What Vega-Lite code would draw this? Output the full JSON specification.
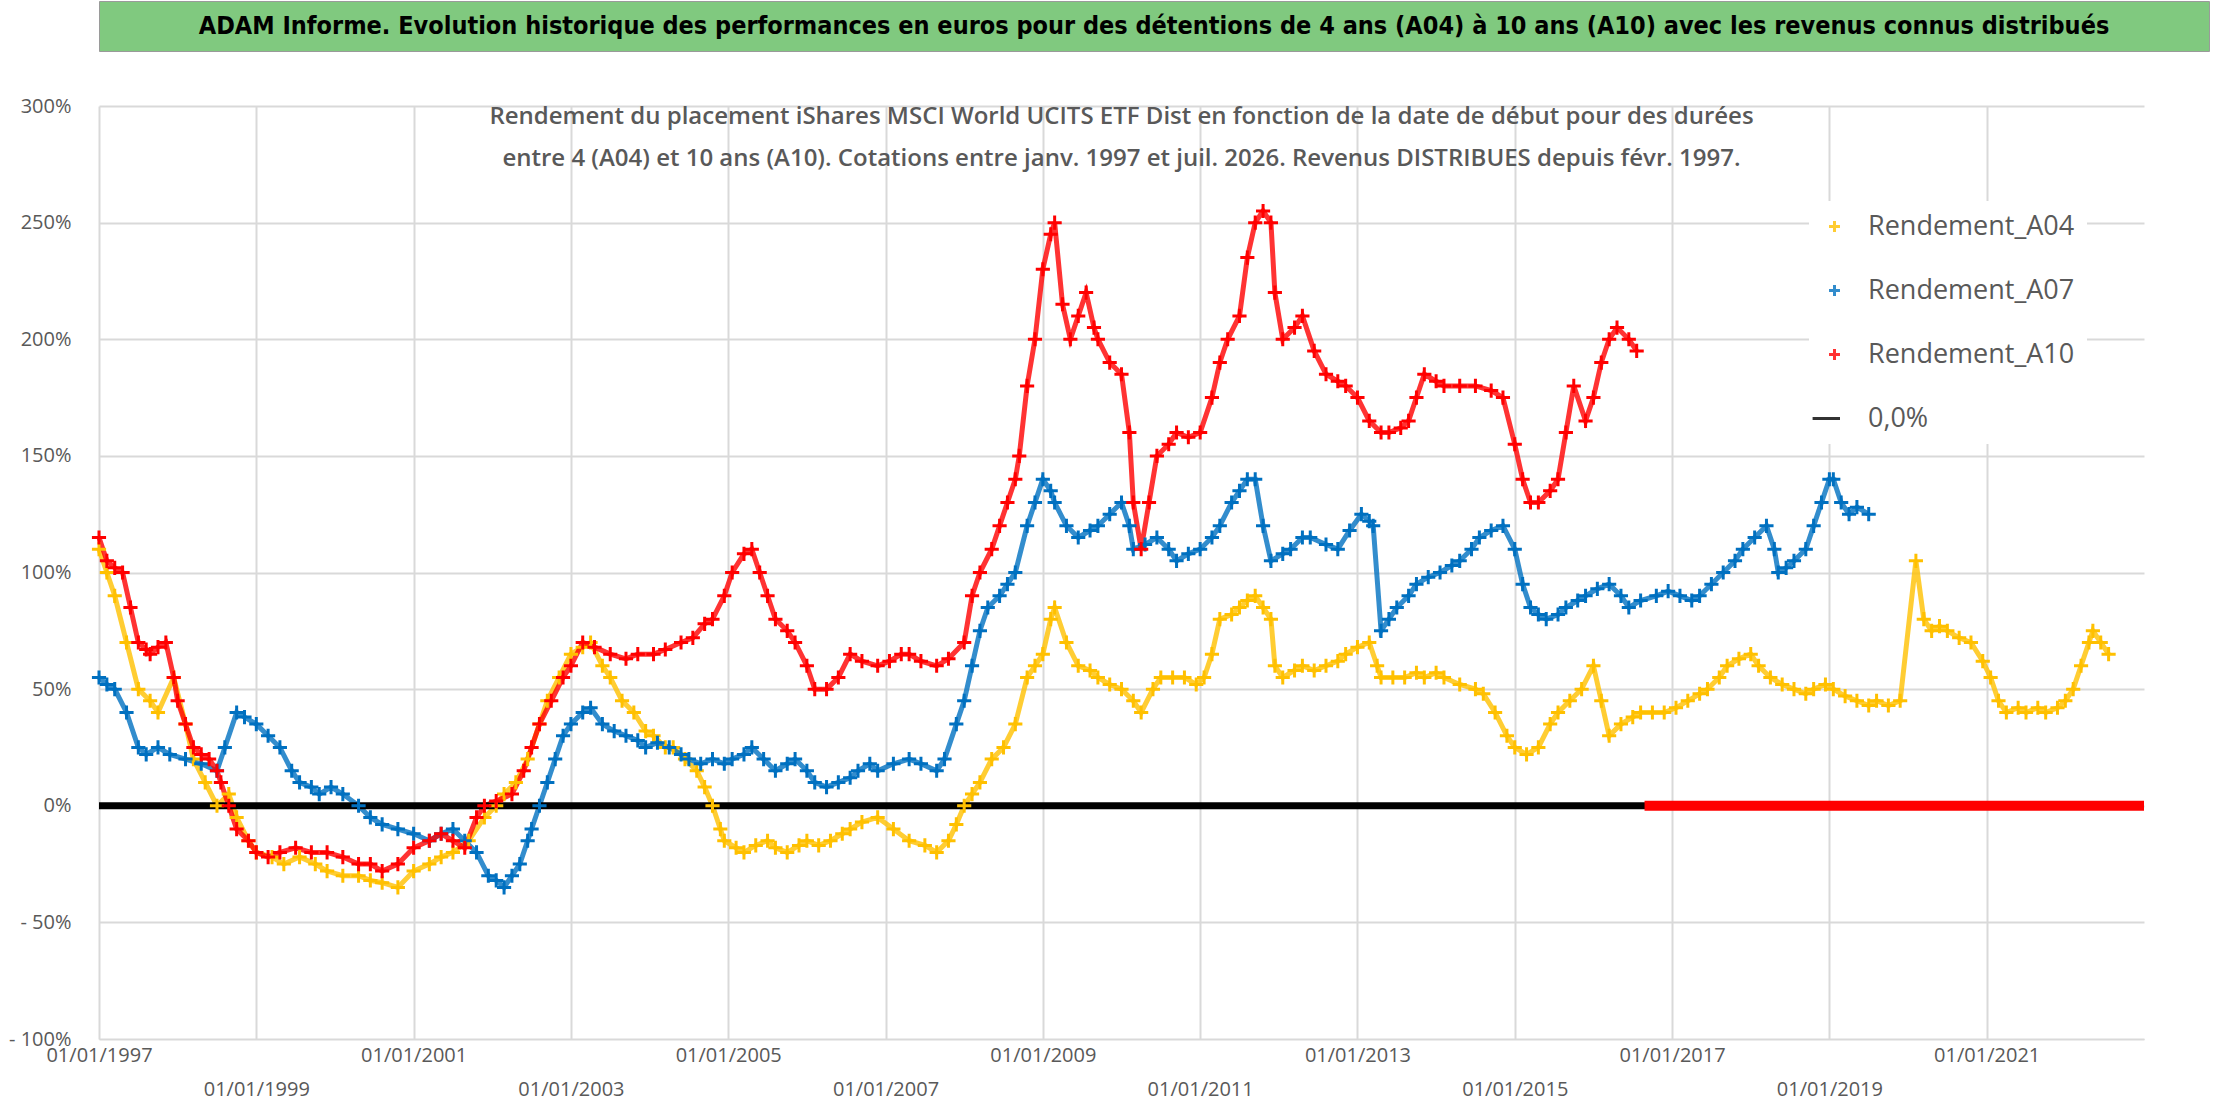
{
  "$schema": "https://vega.github.io/schema/vega-lite/v6.json",
  "padding": {"left": 8, "top": 0, "right": 4, "bottom": 2},
  "background": "white",
  "spacing": 44,
  "datasets": {
    "series": [
      {"s":"Rendement_A04","t":1997.0,"v":110},{"s":"Rendement_A04","t":1997.1,"v":100},{"s":"Rendement_A04","t":1997.2,"v":90},{"s":"Rendement_A04","t":1997.35,"v":70},{"s":"Rendement_A04","t":1997.5,"v":50},{"s":"Rendement_A04","t":1997.65,"v":45},{"s":"Rendement_A04","t":1997.75,"v":40},{"s":"Rendement_A04","t":1997.95,"v":55},{"s":"Rendement_A04","t":1998.1,"v":35},{"s":"Rendement_A04","t":1998.2,"v":20},{"s":"Rendement_A04","t":1998.35,"v":10},{"s":"Rendement_A04","t":1998.5,"v":0},{"s":"Rendement_A04","t":1998.65,"v":5},{"s":"Rendement_A04","t":1998.75,"v":-5},{"s":"Rendement_A04","t":1998.9,"v":-15},{"s":"Rendement_A04","t":1999.0,"v":-20},{"s":"Rendement_A04","t":1999.2,"v":-22},{"s":"Rendement_A04","t":1999.35,"v":-25},{"s":"Rendement_A04","t":1999.55,"v":-22},{"s":"Rendement_A04","t":1999.75,"v":-25},{"s":"Rendement_A04","t":1999.9,"v":-28},{"s":"Rendement_A04","t":2000.1,"v":-30},{"s":"Rendement_A04","t":2000.3,"v":-30},{"s":"Rendement_A04","t":2000.45,"v":-32},{"s":"Rendement_A04","t":2000.6,"v":-33},{"s":"Rendement_A04","t":2000.8,"v":-35},{"s":"Rendement_A04","t":2001.0,"v":-28},{"s":"Rendement_A04","t":2001.2,"v":-25},{"s":"Rendement_A04","t":2001.35,"v":-22},{"s":"Rendement_A04","t":2001.5,"v":-20},{"s":"Rendement_A04","t":2001.7,"v":-15},{"s":"Rendement_A04","t":2001.9,"v":-5},{"s":"Rendement_A04","t":2002.05,"v":0},{"s":"Rendement_A04","t":2002.15,"v":5},{"s":"Rendement_A04","t":2002.3,"v":10},{"s":"Rendement_A04","t":2002.45,"v":20},{"s":"Rendement_A04","t":2002.6,"v":35},{"s":"Rendement_A04","t":2002.7,"v":45},{"s":"Rendement_A04","t":2002.85,"v":55},{"s":"Rendement_A04","t":2003.0,"v":65},{"s":"Rendement_A04","t":2003.15,"v":68},{"s":"Rendement_A04","t":2003.25,"v":70},{"s":"Rendement_A04","t":2003.4,"v":60},{"s":"Rendement_A04","t":2003.5,"v":55},{"s":"Rendement_A04","t":2003.65,"v":45},{"s":"Rendement_A04","t":2003.8,"v":40},{"s":"Rendement_A04","t":2003.95,"v":32},{"s":"Rendement_A04","t":2004.05,"v":30},{"s":"Rendement_A04","t":2004.2,"v":25},{"s":"Rendement_A04","t":2004.3,"v":25},{"s":"Rendement_A04","t":2004.45,"v":20},{"s":"Rendement_A04","t":2004.6,"v":15},{"s":"Rendement_A04","t":2004.7,"v":8},{"s":"Rendement_A04","t":2004.8,"v":0},{"s":"Rendement_A04","t":2004.9,"v":-10},{"s":"Rendement_A04","t":2004.95,"v":-15},{"s":"Rendement_A04","t":2005.1,"v":-18},{"s":"Rendement_A04","t":2005.2,"v":-20},{"s":"Rendement_A04","t":2005.35,"v":-17},{"s":"Rendement_A04","t":2005.5,"v":-15},{"s":"Rendement_A04","t":2005.6,"v":-18},{"s":"Rendement_A04","t":2005.75,"v":-20},{"s":"Rendement_A04","t":2005.9,"v":-17},{"s":"Rendement_A04","t":2006.0,"v":-15},{"s":"Rendement_A04","t":2006.15,"v":-17},{"s":"Rendement_A04","t":2006.3,"v":-15},{"s":"Rendement_A04","t":2006.45,"v":-12},{"s":"Rendement_A04","t":2006.55,"v":-10},{"s":"Rendement_A04","t":2006.7,"v":-7},{"s":"Rendement_A04","t":2006.9,"v":-5},{"s":"Rendement_A04","t":2007.1,"v":-10},{"s":"Rendement_A04","t":2007.3,"v":-15},{"s":"Rendement_A04","t":2007.5,"v":-17},{"s":"Rendement_A04","t":2007.65,"v":-20},{"s":"Rendement_A04","t":2007.8,"v":-15},{"s":"Rendement_A04","t":2007.9,"v":-8},{"s":"Rendement_A04","t":2008.0,"v":0},{"s":"Rendement_A04","t":2008.1,"v":5},{"s":"Rendement_A04","t":2008.2,"v":10},{"s":"Rendement_A04","t":2008.35,"v":20},{"s":"Rendement_A04","t":2008.5,"v":25},{"s":"Rendement_A04","t":2008.65,"v":35},{"s":"Rendement_A04","t":2008.8,"v":55},{"s":"Rendement_A04","t":2008.9,"v":60},{"s":"Rendement_A04","t":2009.0,"v":65},{"s":"Rendement_A04","t":2009.1,"v":80},{"s":"Rendement_A04","t":2009.15,"v":85},{"s":"Rendement_A04","t":2009.3,"v":70},{"s":"Rendement_A04","t":2009.45,"v":60},{"s":"Rendement_A04","t":2009.6,"v":58},{"s":"Rendement_A04","t":2009.7,"v":55},{"s":"Rendement_A04","t":2009.85,"v":52},{"s":"Rendement_A04","t":2010.0,"v":50},{"s":"Rendement_A04","t":2010.15,"v":45},{"s":"Rendement_A04","t":2010.25,"v":40},{"s":"Rendement_A04","t":2010.4,"v":50},{"s":"Rendement_A04","t":2010.5,"v":55},{"s":"Rendement_A04","t":2010.65,"v":55},{"s":"Rendement_A04","t":2010.8,"v":55},{"s":"Rendement_A04","t":2010.95,"v":52},{"s":"Rendement_A04","t":2011.05,"v":55},{"s":"Rendement_A04","t":2011.15,"v":65},{"s":"Rendement_A04","t":2011.25,"v":80},{"s":"Rendement_A04","t":2011.4,"v":82},{"s":"Rendement_A04","t":2011.5,"v":85},{"s":"Rendement_A04","t":2011.6,"v":88},{"s":"Rendement_A04","t":2011.7,"v":90},{"s":"Rendement_A04","t":2011.8,"v":85},{"s":"Rendement_A04","t":2011.9,"v":80},{"s":"Rendement_A04","t":2011.95,"v":60},{"s":"Rendement_A04","t":2012.05,"v":55},{"s":"Rendement_A04","t":2012.2,"v":58},{"s":"Rendement_A04","t":2012.3,"v":60},{"s":"Rendement_A04","t":2012.45,"v":58},{"s":"Rendement_A04","t":2012.6,"v":60},{"s":"Rendement_A04","t":2012.75,"v":62},{"s":"Rendement_A04","t":2012.85,"v":65},{"s":"Rendement_A04","t":2013.0,"v":68},{"s":"Rendement_A04","t":2013.15,"v":70},{"s":"Rendement_A04","t":2013.25,"v":60},{"s":"Rendement_A04","t":2013.3,"v":55},{"s":"Rendement_A04","t":2013.45,"v":55},{"s":"Rendement_A04","t":2013.6,"v":55},{"s":"Rendement_A04","t":2013.75,"v":57},{"s":"Rendement_A04","t":2013.85,"v":55},{"s":"Rendement_A04","t":2014.0,"v":57},{"s":"Rendement_A04","t":2014.1,"v":55},{"s":"Rendement_A04","t":2014.3,"v":52},{"s":"Rendement_A04","t":2014.5,"v":50},{"s":"Rendement_A04","t":2014.6,"v":48},{"s":"Rendement_A04","t":2014.75,"v":40},{"s":"Rendement_A04","t":2014.9,"v":30},{"s":"Rendement_A04","t":2015.0,"v":25},{"s":"Rendement_A04","t":2015.15,"v":22},{"s":"Rendement_A04","t":2015.3,"v":25},{"s":"Rendement_A04","t":2015.45,"v":35},{"s":"Rendement_A04","t":2015.55,"v":40},{"s":"Rendement_A04","t":2015.7,"v":45},{"s":"Rendement_A04","t":2015.85,"v":50},{"s":"Rendement_A04","t":2016.0,"v":60},{"s":"Rendement_A04","t":2016.1,"v":45},{"s":"Rendement_A04","t":2016.2,"v":30},{"s":"Rendement_A04","t":2016.35,"v":35},{"s":"Rendement_A04","t":2016.5,"v":38},{"s":"Rendement_A04","t":2016.6,"v":40},{"s":"Rendement_A04","t":2016.75,"v":40},{"s":"Rendement_A04","t":2016.9,"v":40},{"s":"Rendement_A04","t":2017.05,"v":42},{"s":"Rendement_A04","t":2017.2,"v":45},{"s":"Rendement_A04","t":2017.35,"v":48},{"s":"Rendement_A04","t":2017.45,"v":50},{"s":"Rendement_A04","t":2017.6,"v":55},{"s":"Rendement_A04","t":2017.7,"v":60},{"s":"Rendement_A04","t":2017.85,"v":63},{"s":"Rendement_A04","t":2018.0,"v":65},{"s":"Rendement_A04","t":2018.1,"v":60},{"s":"Rendement_A04","t":2018.25,"v":55},{"s":"Rendement_A04","t":2018.4,"v":52},{"s":"Rendement_A04","t":2018.55,"v":50},{"s":"Rendement_A04","t":2018.7,"v":48},{"s":"Rendement_A04","t":2018.8,"v":50},{"s":"Rendement_A04","t":2018.95,"v":52},{"s":"Rendement_A04","t":2019.05,"v":50},{"s":"Rendement_A04","t":2019.2,"v":47},{"s":"Rendement_A04","t":2019.35,"v":45},{"s":"Rendement_A04","t":2019.5,"v":43},{"s":"Rendement_A04","t":2019.6,"v":45},{"s":"Rendement_A04","t":2019.75,"v":43},{"s":"Rendement_A04","t":2019.9,"v":45},{"s":"Rendement_A04","t":2020.1,"v":105},{"s":"Rendement_A04","t":2020.2,"v":80},{"s":"Rendement_A04","t":2020.3,"v":75},{"s":"Rendement_A04","t":2020.4,"v":77},{"s":"Rendement_A04","t":2020.5,"v":75},{"s":"Rendement_A04","t":2020.65,"v":72},{"s":"Rendement_A04","t":2020.8,"v":70},{"s":"Rendement_A04","t":2020.95,"v":62},{"s":"Rendement_A04","t":2021.05,"v":55},{"s":"Rendement_A04","t":2021.15,"v":45},{"s":"Rendement_A04","t":2021.25,"v":40},{"s":"Rendement_A04","t":2021.4,"v":42},{"s":"Rendement_A04","t":2021.5,"v":40},{"s":"Rendement_A04","t":2021.65,"v":42},{"s":"Rendement_A04","t":2021.75,"v":40},{"s":"Rendement_A04","t":2021.9,"v":42},{"s":"Rendement_A04","t":2022.0,"v":45},{"s":"Rendement_A04","t":2022.1,"v":50},{"s":"Rendement_A04","t":2022.2,"v":60},{"s":"Rendement_A04","t":2022.3,"v":70},{"s":"Rendement_A04","t":2022.35,"v":75},{"s":"Rendement_A04","t":2022.45,"v":70},{"s":"Rendement_A04","t":2022.55,"v":65},
      {"s":"Rendement_A07","t":1997.0,"v":55},{"s":"Rendement_A07","t":1997.1,"v":52},{"s":"Rendement_A07","t":1997.2,"v":50},{"s":"Rendement_A07","t":1997.35,"v":40},{"s":"Rendement_A07","t":1997.5,"v":25},{"s":"Rendement_A07","t":1997.6,"v":22},{"s":"Rendement_A07","t":1997.75,"v":25},{"s":"Rendement_A07","t":1997.9,"v":22},{"s":"Rendement_A07","t":1998.1,"v":20},{"s":"Rendement_A07","t":1998.3,"v":18},{"s":"Rendement_A07","t":1998.5,"v":15},{"s":"Rendement_A07","t":1998.6,"v":25},{"s":"Rendement_A07","t":1998.75,"v":40},{"s":"Rendement_A07","t":1998.85,"v":38},{"s":"Rendement_A07","t":1999.0,"v":35},{"s":"Rendement_A07","t":1999.15,"v":30},{"s":"Rendement_A07","t":1999.3,"v":25},{"s":"Rendement_A07","t":1999.45,"v":15},{"s":"Rendement_A07","t":1999.55,"v":10},{"s":"Rendement_A07","t":1999.7,"v":8},{"s":"Rendement_A07","t":1999.8,"v":5},{"s":"Rendement_A07","t":1999.95,"v":8},{"s":"Rendement_A07","t":2000.1,"v":5},{"s":"Rendement_A07","t":2000.3,"v":0},{"s":"Rendement_A07","t":2000.45,"v":-5},{"s":"Rendement_A07","t":2000.6,"v":-8},{"s":"Rendement_A07","t":2000.8,"v":-10},{"s":"Rendement_A07","t":2001.0,"v":-12},{"s":"Rendement_A07","t":2001.2,"v":-15},{"s":"Rendement_A07","t":2001.35,"v":-12},{"s":"Rendement_A07","t":2001.5,"v":-10},{"s":"Rendement_A07","t":2001.65,"v":-15},{"s":"Rendement_A07","t":2001.8,"v":-20},{"s":"Rendement_A07","t":2001.95,"v":-30},{"s":"Rendement_A07","t":2002.05,"v":-32},{"s":"Rendement_A07","t":2002.15,"v":-35},{"s":"Rendement_A07","t":2002.25,"v":-30},{"s":"Rendement_A07","t":2002.35,"v":-25},{"s":"Rendement_A07","t":2002.45,"v":-15},{"s":"Rendement_A07","t":2002.5,"v":-10},{"s":"Rendement_A07","t":2002.6,"v":0},{"s":"Rendement_A07","t":2002.7,"v":10},{"s":"Rendement_A07","t":2002.8,"v":20},{"s":"Rendement_A07","t":2002.9,"v":30},{"s":"Rendement_A07","t":2003.0,"v":35},{"s":"Rendement_A07","t":2003.15,"v":40},{"s":"Rendement_A07","t":2003.25,"v":42},{"s":"Rendement_A07","t":2003.4,"v":35},{"s":"Rendement_A07","t":2003.55,"v":32},{"s":"Rendement_A07","t":2003.7,"v":30},{"s":"Rendement_A07","t":2003.85,"v":28},{"s":"Rendement_A07","t":2003.95,"v":25},{"s":"Rendement_A07","t":2004.1,"v":27},{"s":"Rendement_A07","t":2004.25,"v":25},{"s":"Rendement_A07","t":2004.4,"v":22},{"s":"Rendement_A07","t":2004.5,"v":20},{"s":"Rendement_A07","t":2004.65,"v":18},{"s":"Rendement_A07","t":2004.8,"v":20},{"s":"Rendement_A07","t":2004.95,"v":18},{"s":"Rendement_A07","t":2005.05,"v":20},{"s":"Rendement_A07","t":2005.2,"v":22},{"s":"Rendement_A07","t":2005.3,"v":25},{"s":"Rendement_A07","t":2005.45,"v":20},{"s":"Rendement_A07","t":2005.6,"v":15},{"s":"Rendement_A07","t":2005.75,"v":18},{"s":"Rendement_A07","t":2005.85,"v":20},{"s":"Rendement_A07","t":2006.0,"v":15},{"s":"Rendement_A07","t":2006.1,"v":10},{"s":"Rendement_A07","t":2006.25,"v":8},{"s":"Rendement_A07","t":2006.4,"v":10},{"s":"Rendement_A07","t":2006.55,"v":12},{"s":"Rendement_A07","t":2006.65,"v":15},{"s":"Rendement_A07","t":2006.8,"v":18},{"s":"Rendement_A07","t":2006.9,"v":15},{"s":"Rendement_A07","t":2007.1,"v":18},{"s":"Rendement_A07","t":2007.3,"v":20},{"s":"Rendement_A07","t":2007.45,"v":18},{"s":"Rendement_A07","t":2007.65,"v":15},{"s":"Rendement_A07","t":2007.75,"v":20},{"s":"Rendement_A07","t":2007.9,"v":35},{"s":"Rendement_A07","t":2008.0,"v":45},{"s":"Rendement_A07","t":2008.1,"v":60},{"s":"Rendement_A07","t":2008.2,"v":75},{"s":"Rendement_A07","t":2008.3,"v":85},{"s":"Rendement_A07","t":2008.45,"v":90},{"s":"Rendement_A07","t":2008.55,"v":95},{"s":"Rendement_A07","t":2008.65,"v":100},{"s":"Rendement_A07","t":2008.8,"v":120},{"s":"Rendement_A07","t":2008.9,"v":130},{"s":"Rendement_A07","t":2009.0,"v":140},{"s":"Rendement_A07","t":2009.1,"v":135},{"s":"Rendement_A07","t":2009.15,"v":130},{"s":"Rendement_A07","t":2009.3,"v":120},{"s":"Rendement_A07","t":2009.45,"v":115},{"s":"Rendement_A07","t":2009.6,"v":118},{"s":"Rendement_A07","t":2009.7,"v":120},{"s":"Rendement_A07","t":2009.85,"v":125},{"s":"Rendement_A07","t":2010.0,"v":130},{"s":"Rendement_A07","t":2010.1,"v":120},{"s":"Rendement_A07","t":2010.15,"v":110},{"s":"Rendement_A07","t":2010.3,"v":112},{"s":"Rendement_A07","t":2010.45,"v":115},{"s":"Rendement_A07","t":2010.6,"v":110},{"s":"Rendement_A07","t":2010.7,"v":105},{"s":"Rendement_A07","t":2010.85,"v":108},{"s":"Rendement_A07","t":2011.0,"v":110},{"s":"Rendement_A07","t":2011.15,"v":115},{"s":"Rendement_A07","t":2011.25,"v":120},{"s":"Rendement_A07","t":2011.4,"v":130},{"s":"Rendement_A07","t":2011.5,"v":135},{"s":"Rendement_A07","t":2011.6,"v":140},{"s":"Rendement_A07","t":2011.7,"v":140},{"s":"Rendement_A07","t":2011.8,"v":120},{"s":"Rendement_A07","t":2011.9,"v":105},{"s":"Rendement_A07","t":2012.05,"v":108},{"s":"Rendement_A07","t":2012.15,"v":110},{"s":"Rendement_A07","t":2012.3,"v":115},{"s":"Rendement_A07","t":2012.4,"v":115},{"s":"Rendement_A07","t":2012.6,"v":112},{"s":"Rendement_A07","t":2012.75,"v":110},{"s":"Rendement_A07","t":2012.9,"v":118},{"s":"Rendement_A07","t":2013.05,"v":125},{"s":"Rendement_A07","t":2013.15,"v":122},{"s":"Rendement_A07","t":2013.2,"v":120},{"s":"Rendement_A07","t":2013.3,"v":75},{"s":"Rendement_A07","t":2013.4,"v":80},{"s":"Rendement_A07","t":2013.5,"v":85},{"s":"Rendement_A07","t":2013.65,"v":90},{"s":"Rendement_A07","t":2013.75,"v":95},{"s":"Rendement_A07","t":2013.9,"v":98},{"s":"Rendement_A07","t":2014.05,"v":100},{"s":"Rendement_A07","t":2014.2,"v":103},{"s":"Rendement_A07","t":2014.3,"v":105},{"s":"Rendement_A07","t":2014.45,"v":110},{"s":"Rendement_A07","t":2014.55,"v":115},{"s":"Rendement_A07","t":2014.7,"v":118},{"s":"Rendement_A07","t":2014.85,"v":120},{"s":"Rendement_A07","t":2015.0,"v":110},{"s":"Rendement_A07","t":2015.1,"v":95},{"s":"Rendement_A07","t":2015.2,"v":85},{"s":"Rendement_A07","t":2015.3,"v":82},{"s":"Rendement_A07","t":2015.4,"v":80},{"s":"Rendement_A07","t":2015.55,"v":82},{"s":"Rendement_A07","t":2015.65,"v":85},{"s":"Rendement_A07","t":2015.8,"v":88},{"s":"Rendement_A07","t":2015.9,"v":90},{"s":"Rendement_A07","t":2016.05,"v":93},{"s":"Rendement_A07","t":2016.2,"v":95},{"s":"Rendement_A07","t":2016.35,"v":90},{"s":"Rendement_A07","t":2016.45,"v":85},{"s":"Rendement_A07","t":2016.6,"v":88},{"s":"Rendement_A07","t":2016.8,"v":90},{"s":"Rendement_A07","t":2016.95,"v":92},{"s":"Rendement_A07","t":2017.1,"v":90},{"s":"Rendement_A07","t":2017.25,"v":88},{"s":"Rendement_A07","t":2017.35,"v":90},{"s":"Rendement_A07","t":2017.5,"v":95},{"s":"Rendement_A07","t":2017.65,"v":100},{"s":"Rendement_A07","t":2017.8,"v":105},{"s":"Rendement_A07","t":2017.9,"v":110},{"s":"Rendement_A07","t":2018.05,"v":115},{"s":"Rendement_A07","t":2018.2,"v":120},{"s":"Rendement_A07","t":2018.3,"v":110},{"s":"Rendement_A07","t":2018.35,"v":100},{"s":"Rendement_A07","t":2018.45,"v":102},{"s":"Rendement_A07","t":2018.55,"v":105},{"s":"Rendement_A07","t":2018.7,"v":110},{"s":"Rendement_A07","t":2018.8,"v":120},{"s":"Rendement_A07","t":2018.9,"v":130},{"s":"Rendement_A07","t":2019.0,"v":140},{"s":"Rendement_A07","t":2019.05,"v":140},{"s":"Rendement_A07","t":2019.15,"v":130},{"s":"Rendement_A07","t":2019.25,"v":125},{"s":"Rendement_A07","t":2019.35,"v":128},{"s":"Rendement_A07","t":2019.5,"v":125},
      {"s":"Rendement_A10","t":1997.0,"v":115},{"s":"Rendement_A10","t":1997.1,"v":105},{"s":"Rendement_A10","t":1997.2,"v":102},{"s":"Rendement_A10","t":1997.3,"v":100},{"s":"Rendement_A10","t":1997.4,"v":85},{"s":"Rendement_A10","t":1997.5,"v":70},{"s":"Rendement_A10","t":1997.6,"v":67},{"s":"Rendement_A10","t":1997.65,"v":65},{"s":"Rendement_A10","t":1997.75,"v":68},{"s":"Rendement_A10","t":1997.85,"v":70},{"s":"Rendement_A10","t":1997.95,"v":55},{"s":"Rendement_A10","t":1998.0,"v":45},{"s":"Rendement_A10","t":1998.1,"v":35},{"s":"Rendement_A10","t":1998.2,"v":25},{"s":"Rendement_A10","t":1998.3,"v":22},{"s":"Rendement_A10","t":1998.4,"v":20},{"s":"Rendement_A10","t":1998.5,"v":15},{"s":"Rendement_A10","t":1998.55,"v":10},{"s":"Rendement_A10","t":1998.65,"v":0},{"s":"Rendement_A10","t":1998.75,"v":-10},{"s":"Rendement_A10","t":1998.9,"v":-15},{"s":"Rendement_A10","t":1999.0,"v":-20},{"s":"Rendement_A10","t":1999.15,"v":-22},{"s":"Rendement_A10","t":1999.3,"v":-20},{"s":"Rendement_A10","t":1999.5,"v":-18},{"s":"Rendement_A10","t":1999.7,"v":-20},{"s":"Rendement_A10","t":1999.9,"v":-20},{"s":"Rendement_A10","t":2000.1,"v":-22},{"s":"Rendement_A10","t":2000.3,"v":-25},{"s":"Rendement_A10","t":2000.45,"v":-25},{"s":"Rendement_A10","t":2000.6,"v":-28},{"s":"Rendement_A10","t":2000.8,"v":-25},{"s":"Rendement_A10","t":2001.0,"v":-18},{"s":"Rendement_A10","t":2001.2,"v":-15},{"s":"Rendement_A10","t":2001.35,"v":-12},{"s":"Rendement_A10","t":2001.5,"v":-15},{"s":"Rendement_A10","t":2001.65,"v":-18},{"s":"Rendement_A10","t":2001.8,"v":-5},{"s":"Rendement_A10","t":2001.9,"v":0},{"s":"Rendement_A10","t":2002.05,"v":2},{"s":"Rendement_A10","t":2002.25,"v":5},{"s":"Rendement_A10","t":2002.4,"v":15},{"s":"Rendement_A10","t":2002.5,"v":25},{"s":"Rendement_A10","t":2002.6,"v":35},{"s":"Rendement_A10","t":2002.75,"v":45},{"s":"Rendement_A10","t":2002.9,"v":55},{"s":"Rendement_A10","t":2003.0,"v":60},{"s":"Rendement_A10","t":2003.15,"v":70},{"s":"Rendement_A10","t":2003.3,"v":68},{"s":"Rendement_A10","t":2003.5,"v":65},{"s":"Rendement_A10","t":2003.7,"v":63},{"s":"Rendement_A10","t":2003.85,"v":65},{"s":"Rendement_A10","t":2004.05,"v":65},{"s":"Rendement_A10","t":2004.2,"v":67},{"s":"Rendement_A10","t":2004.4,"v":70},{"s":"Rendement_A10","t":2004.55,"v":72},{"s":"Rendement_A10","t":2004.7,"v":78},{"s":"Rendement_A10","t":2004.8,"v":80},{"s":"Rendement_A10","t":2004.95,"v":90},{"s":"Rendement_A10","t":2005.05,"v":100},{"s":"Rendement_A10","t":2005.2,"v":108},{"s":"Rendement_A10","t":2005.3,"v":110},{"s":"Rendement_A10","t":2005.4,"v":100},{"s":"Rendement_A10","t":2005.5,"v":90},{"s":"Rendement_A10","t":2005.6,"v":80},{"s":"Rendement_A10","t":2005.75,"v":75},{"s":"Rendement_A10","t":2005.85,"v":70},{"s":"Rendement_A10","t":2006.0,"v":60},{"s":"Rendement_A10","t":2006.1,"v":50},{"s":"Rendement_A10","t":2006.25,"v":50},{"s":"Rendement_A10","t":2006.4,"v":55},{"s":"Rendement_A10","t":2006.55,"v":65},{"s":"Rendement_A10","t":2006.7,"v":62},{"s":"Rendement_A10","t":2006.9,"v":60},{"s":"Rendement_A10","t":2007.05,"v":62},{"s":"Rendement_A10","t":2007.2,"v":65},{"s":"Rendement_A10","t":2007.3,"v":65},{"s":"Rendement_A10","t":2007.45,"v":62},{"s":"Rendement_A10","t":2007.65,"v":60},{"s":"Rendement_A10","t":2007.8,"v":63},{"s":"Rendement_A10","t":2008.0,"v":70},{"s":"Rendement_A10","t":2008.1,"v":90},{"s":"Rendement_A10","t":2008.2,"v":100},{"s":"Rendement_A10","t":2008.35,"v":110},{"s":"Rendement_A10","t":2008.45,"v":120},{"s":"Rendement_A10","t":2008.55,"v":130},{"s":"Rendement_A10","t":2008.65,"v":140},{"s":"Rendement_A10","t":2008.7,"v":150},{"s":"Rendement_A10","t":2008.8,"v":180},{"s":"Rendement_A10","t":2008.9,"v":200},{"s":"Rendement_A10","t":2009.0,"v":230},{"s":"Rendement_A10","t":2009.1,"v":245},{"s":"Rendement_A10","t":2009.15,"v":250},{"s":"Rendement_A10","t":2009.25,"v":215},{"s":"Rendement_A10","t":2009.35,"v":200},{"s":"Rendement_A10","t":2009.45,"v":210},{"s":"Rendement_A10","t":2009.55,"v":220},{"s":"Rendement_A10","t":2009.65,"v":205},{"s":"Rendement_A10","t":2009.7,"v":200},{"s":"Rendement_A10","t":2009.85,"v":190},{"s":"Rendement_A10","t":2010.0,"v":185},{"s":"Rendement_A10","t":2010.1,"v":160},{"s":"Rendement_A10","t":2010.15,"v":130},{"s":"Rendement_A10","t":2010.25,"v":110},{"s":"Rendement_A10","t":2010.35,"v":130},{"s":"Rendement_A10","t":2010.45,"v":150},{"s":"Rendement_A10","t":2010.6,"v":155},{"s":"Rendement_A10","t":2010.7,"v":160},{"s":"Rendement_A10","t":2010.85,"v":158},{"s":"Rendement_A10","t":2011.0,"v":160},{"s":"Rendement_A10","t":2011.15,"v":175},{"s":"Rendement_A10","t":2011.25,"v":190},{"s":"Rendement_A10","t":2011.35,"v":200},{"s":"Rendement_A10","t":2011.5,"v":210},{"s":"Rendement_A10","t":2011.6,"v":235},{"s":"Rendement_A10","t":2011.7,"v":250},{"s":"Rendement_A10","t":2011.8,"v":255},{"s":"Rendement_A10","t":2011.9,"v":250},{"s":"Rendement_A10","t":2011.95,"v":220},{"s":"Rendement_A10","t":2012.05,"v":200},{"s":"Rendement_A10","t":2012.2,"v":205},{"s":"Rendement_A10","t":2012.3,"v":210},{"s":"Rendement_A10","t":2012.45,"v":195},{"s":"Rendement_A10","t":2012.6,"v":185},{"s":"Rendement_A10","t":2012.75,"v":182},{"s":"Rendement_A10","t":2012.85,"v":180},{"s":"Rendement_A10","t":2013.0,"v":175},{"s":"Rendement_A10","t":2013.15,"v":165},{"s":"Rendement_A10","t":2013.3,"v":160},{"s":"Rendement_A10","t":2013.4,"v":160},{"s":"Rendement_A10","t":2013.55,"v":162},{"s":"Rendement_A10","t":2013.65,"v":165},{"s":"Rendement_A10","t":2013.75,"v":175},{"s":"Rendement_A10","t":2013.85,"v":185},{"s":"Rendement_A10","t":2014.0,"v":182},{"s":"Rendement_A10","t":2014.1,"v":180},{"s":"Rendement_A10","t":2014.3,"v":180},{"s":"Rendement_A10","t":2014.5,"v":180},{"s":"Rendement_A10","t":2014.7,"v":178},{"s":"Rendement_A10","t":2014.85,"v":175},{"s":"Rendement_A10","t":2015.0,"v":155},{"s":"Rendement_A10","t":2015.1,"v":140},{"s":"Rendement_A10","t":2015.2,"v":130},{"s":"Rendement_A10","t":2015.3,"v":130},{"s":"Rendement_A10","t":2015.45,"v":135},{"s":"Rendement_A10","t":2015.55,"v":140},{"s":"Rendement_A10","t":2015.65,"v":160},{"s":"Rendement_A10","t":2015.75,"v":180},{"s":"Rendement_A10","t":2015.9,"v":165},{"s":"Rendement_A10","t":2016.0,"v":175},{"s":"Rendement_A10","t":2016.1,"v":190},{"s":"Rendement_A10","t":2016.2,"v":200},{"s":"Rendement_A10","t":2016.3,"v":205},{"s":"Rendement_A10","t":2016.45,"v":200},{"s":"Rendement_A10","t":2016.55,"v":195}
    ],
    "zeros": [
      {"s":"Rendement_A10","t":2016.65,"v":0},{"s":"Rendement_A10","t":2016.85,"v":0},{"s":"Rendement_A10","t":2017.05,"v":0},{"s":"Rendement_A10","t":2017.25,"v":0},{"s":"Rendement_A10","t":2017.45,"v":0},{"s":"Rendement_A10","t":2017.65,"v":0},{"s":"Rendement_A10","t":2017.85,"v":0},{"s":"Rendement_A10","t":2018.05,"v":0},{"s":"Rendement_A10","t":2018.25,"v":0},{"s":"Rendement_A10","t":2018.45,"v":0},{"s":"Rendement_A10","t":2018.65,"v":0},{"s":"Rendement_A10","t":2018.85,"v":0},{"s":"Rendement_A10","t":2019.05,"v":0},{"s":"Rendement_A10","t":2019.25,"v":0},{"s":"Rendement_A10","t":2019.45,"v":0},{"s":"Rendement_A10","t":2019.65,"v":0},{"s":"Rendement_A10","t":2019.85,"v":0},{"s":"Rendement_A10","t":2020.05,"v":0},{"s":"Rendement_A10","t":2020.25,"v":0},{"s":"Rendement_A10","t":2020.45,"v":0},{"s":"Rendement_A10","t":2020.65,"v":0},{"s":"Rendement_A10","t":2020.85,"v":0},{"s":"Rendement_A10","t":2021.05,"v":0},{"s":"Rendement_A10","t":2021.25,"v":0},{"s":"Rendement_A10","t":2021.45,"v":0},{"s":"Rendement_A10","t":2021.65,"v":0},{"s":"Rendement_A10","t":2021.85,"v":0},{"s":"Rendement_A10","t":2022.05,"v":0},{"s":"Rendement_A10","t":2022.25,"v":0},{"s":"Rendement_A10","t":2022.45,"v":0},{"s":"Rendement_A10","t":2022.65,"v":0},{"s":"Rendement_A10","t":2022.85,"v":0},{"s":"Rendement_A10","t":2023.0,"v":0}
    ],
    "banner": [{"label": "ADAM Informe. Evolution historique des performances en euros pour des détentions de 4 ans (A04) à 10 ans (A10) avec les revenus connus distribués"}]
  },
  "vconcat": [
    {
      "width": 2110,
      "height": 50,
      "data": {"name": "banner"},
      "mark": {"type": "text", "font": "DejaVu Sans Condensed", "fontWeight": "bold", "fontSize": 25, "color": "black", "baseline": "middle", "align": "center"},
      "encoding": {"text": {"field": "label"}},
      "view": {"fill": "#80C97F", "stroke": "#9a9a9a"}
    },
    {
      "width": 2045,
      "height": 933,
      "title": {
        "text": ["Rendement du placement iShares MSCI World UCITS ETF Dist en fonction de la date de début pour des durées", "entre 4 (A04) et 10 ans (A10). Cotations entre janv. 1997 et juil. 2026. Revenus DISTRIBUES depuis févr. 1997."],
        "font": "Open Sans", "fontSize": 24, "fontWeight": 600, "color": "#595959",
        "anchor": "middle", "frame": "group", "offset": -75, "lineHeight": 42
      },
      "layer": [
        {
          "data": {"name": "series"},
          "mark": {"type": "line", "strokeWidth": 5, "opacity": 0.8},
          "encoding": {
            "x": {"field": "t", "type": "quantitative", "title": null,
              "scale": {"domain": [1997, 2023], "nice": false, "zero": false},
              "axis": {"values": [1997,1999,2001,2003,2005,2007,2009,2011,2013,2015,2017,2019,2021],
                "labelExpr": "(datum.value - 1997) % 4 == 0 ? '01/01/' + datum.value : ['', '01/01/' + datum.value]",
                "labelFont": "Open Sans", "labelFontSize": 20, "labelColor": "#595959", "labelLineHeight": 34,
                "labelPadding": 6, "ticks": false, "domainColor": "#d9d9d9", "gridColor": "#d9d9d9", "gridWidth": 2, "labelFlush": false}},
            "y": {"field": "v", "type": "quantitative", "title": null,
              "scale": {"domain": [-100, 300], "nice": false},
              "axis": {"values": [-100,-50,0,50,100,150,200,250,300],
                "labelExpr": "datum.value < 0 ? '- ' + (-datum.value) + '%' : datum.value + '%'",
                "labelFont": "Open Sans", "labelFontSize": 20, "labelColor": "#595959", "labelPadding": 28,
                "ticks": false, "domain": false, "gridColor": "#d9d9d9", "gridWidth": 2}},
            "color": {"field": "s", "type": "nominal", "title": null,
              "scale": {"domain": ["Rendement_A04", "Rendement_A07", "Rendement_A10", "0,0%"], "range": ["#FFC000", "#0070C0", "#FF0000", "#000000"]}}
          }
        },
        {
          "data": {"values": [{"z": 0}]},
          "mark": {"type": "rule", "strokeWidth": 7, "color": "black"},
          "encoding": {"y": {"datum": 0}}
        },
        {
          "data": {"name": "zeros"},
          "mark": {"type": "line", "strokeWidth": 10, "color": "#FF0000"},
          "encoding": {
            "x": {"field": "t", "type": "quantitative"},
            "y": {"field": "v", "type": "quantitative"}
          }
        },
        {
          "data": {"name": "series"},
          "mark": {"type": "point", "filled": false, "strokeWidth": 3, "size": 200, "opacity": 1},
          "encoding": {
            "x": {"field": "t", "type": "quantitative"},
            "y": {"field": "v", "type": "quantitative"},
            "color": {"field": "s", "type": "nominal", "title": null},
            "shape": {"field": "s", "type": "nominal", "title": null,
              "scale": {"domain": ["Rendement_A04", "Rendement_A07", "Rendement_A10", "0,0%"], "range": ["M-1,0H1M0,-1V1", "M-1,0H1M0,-1V1", "M-1,0H1M0,-1V1", "M-4,0H1"]}}
          }
        }
      ]
    }
  ],
  "config": {
    "view": {"stroke": null},
    "legend": {"orient": "none", "legendX": 1710, "legendY": 200,
      "labelFont": "Open Sans", "labelFontSize": 27, "labelColor": "#595959", "labelLimit": 0, "rowPadding": 36,
      "symbolStrokeWidth": 3, "symbolSize": 120, "labelOffset": 20, "fillColor": "white", "padding": 12}
  }
}
